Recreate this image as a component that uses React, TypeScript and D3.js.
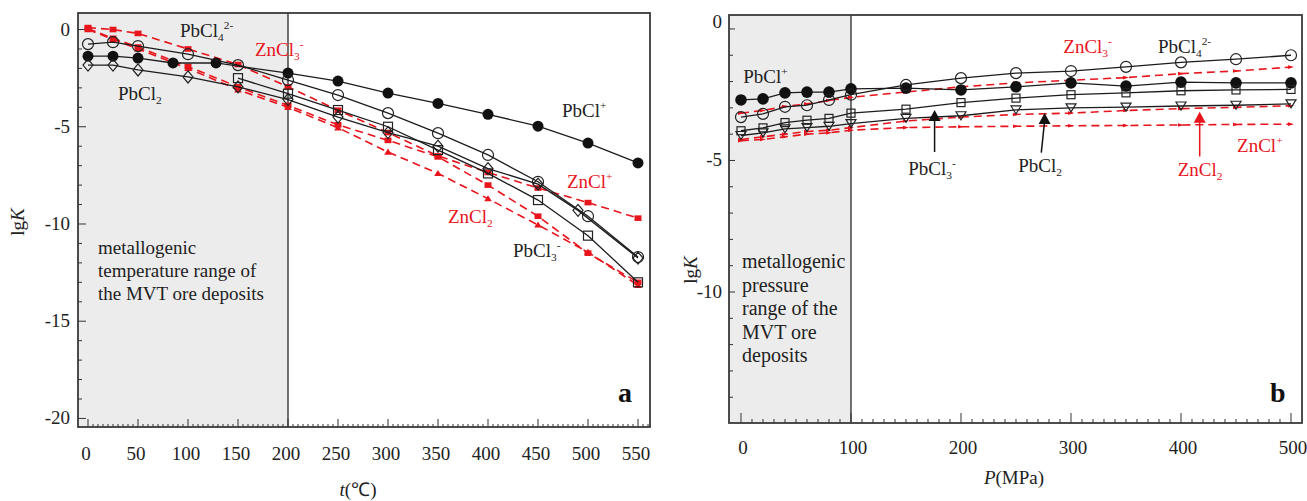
import React from 'react';
import * as d3 from 'd3';

// ---------- Panel a: lgK vs temperature ----------
const tempsA = [0, 25, 50, 100, 150, 200, 250, 300, 350, 400, 450, 500, 550];
const tempsPbClPlusA = [0, 25, 50, 85, 128, 200, 250, 300, 350, 400, 450, 500, 550];
const tempsPbCl2A = [0, 25, 50, 100, 150, 200, 250, 300, 350, 400, 450, 490, 550];
const tempsPbCl3A = [150, 200, 250, 300, 350, 400, 450, 500, 550];

const pbClPlusA = [-1.37, -1.37, -1.47, -1.72, -1.72, -2.24, -2.65, -3.27, -3.8, -4.36, -4.97, -5.84, -6.86];
const pbCl4A = [-0.75, -0.65, -0.85, -1.27, -1.83, -2.6, -3.37, -4.3, -5.33, -6.45, -7.83, -9.6, -11.7];
const pbCl2A = [-1.83, -1.83, -2.08, -2.44, -2.95, -3.6, -4.5, -5.3, -6.0, -7.15, -7.95, -9.3, -11.75];
const pbCl3A = [-2.5, -3.3, -4.14, -5.0, -6.2, -7.4, -8.77, -10.6, -13.0];
const znClPlusA = [0.1, 0.0, -0.2, -1.0, -1.8, -2.95, -4.15, -5.3, -6.5, -7.35, -8.15, -8.9, -9.7];
const znCl3A = [0.05, -0.45, -0.9, -1.9, -2.95, -3.9, -4.9, -5.7, -6.55, -8.0, -9.6, -11.5, -13.0];
const znCl2A = [0.0, -0.5, -1.0, -2.0, -3.1, -4.0, -5.05, -6.3, -7.4, -8.7, -10.05, -11.45, -13.15];

const xTicksA = [0, 50, 100, 150, 200, 250, 300, 350, 400, 450, 500, 550];
const yTicksA = [0, -5, -10, -15, -20];

// ---------- Panel b: lgK vs pressure ----------
const pressuresB = [0, 20, 40, 60, 80, 100, 150, 200, 250, 300, 350, 400, 450, 500];
const pbClPlusB = [-2.7, -2.66, -2.43, -2.4, -2.4, -2.28, -2.25, -2.32, -2.2, -2.05, -2.17, -2.02, -2.05, -2.05];
const pbCl4B = [-3.35, -3.23, -2.96, -2.9, -2.7, -2.5, -2.13, -1.87, -1.68, -1.6, -1.44, -1.27, -1.15, -1.0];
const pbCl3B = [-3.87, -3.76, -3.56, -3.47, -3.4, -3.2, -3.05, -2.8, -2.63, -2.5, -2.43, -2.35, -2.32, -2.3];
const pbCl2B = [-4.05, -3.95, -3.8, -3.75, -3.7, -3.6, -3.4, -3.3, -3.08, -3.0, -2.97, -2.93, -2.9, -2.85];
const znCl3B = [-3.2, -3.1, -2.95, -2.85, -2.72, -2.6, -2.4, -2.2, -2.05, -1.95, -1.85, -1.7, -1.6, -1.45];
const znCl2B = [-4.2, -4.1, -4.0, -3.9, -3.85, -3.75, -3.5, -3.35, -3.25, -3.2, -3.1, -3.03, -2.98, -2.92];
const znClPlusB = [-4.25, -4.2, -4.1, -4.0, -3.95, -3.85, -3.75, -3.72, -3.7, -3.68, -3.67, -3.65, -3.63, -3.62];

const xTicksB = [0, 100, 200, 300, 400, 500];
const yTicksB = [0, -5, -10];

// species labels (position in data units)
const labelsA = [
  { base: 'PbCl', sub: '4', sup: '2-', x: 92, y: -0.39, color: 'black' },
  { base: 'ZnCl', sub: '3', sup: '-', x: 167, y: -1.36, color: 'red' },
  { base: 'PbCl', sub: '2', sup: '', x: 30, y: -3.62, color: 'black' },
  { base: 'PbCl', sub: '', sup: '+', x: 474, y: -4.5, color: 'black' },
  { base: 'ZnCl', sub: '', sup: '+', x: 479, y: -8.15, color: 'red' },
  { base: 'ZnCl', sub: '2', sup: '', x: 360, y: -9.95, color: 'red' },
  { base: 'PbCl', sub: '3', sup: '-', x: 425, y: -11.7, color: 'black' },
];
const labelsB = [
  { base: 'PbCl', sub: '', sup: '+', x: 2, y: -2.07, color: 'black' },
  { base: 'ZnCl', sub: '3', sup: '-', x: 293, y: -0.92, color: 'red' },
  { base: 'PbCl', sub: '4', sup: '2-', x: 379, y: -0.92, color: 'black' },
  { base: 'PbCl', sub: '3', sup: '-', x: 152, y: -5.55, color: 'black' },
  { base: 'PbCl', sub: '2', sup: '', x: 252, y: -5.45, color: 'black' },
  { base: 'ZnCl', sub: '2', sup: '', x: 397, y: -5.6, color: 'red' },
  { base: 'ZnCl', sub: '', sup: '+', x: 451, y: -4.68, color: 'red' },
];
// arrows in panel b
const arrowsB = [
  { x0: 176, x1: 176, y0: -4.68, y1: -3.08, color: '#111' },
  { x0: 273, x1: 276, y0: -4.7, y1: -3.2, color: '#111' },
  { x0: 417, x1: 417, y0: -4.85, y1: -3.15, color: '#e8141c' },
];
const noteA = ['metallogenic', 'temperature range of', 'the MVT ore deposits'];
const noteB = ['metallogenic', 'pressure', 'range of the', 'MVT ore', 'deposits'];

const FONT = "'Liberation Serif', 'Times New Roman', serif";
const RED = '#e8141c';
const BLACK = '#1c1c1c';

const xA = d3.scaleLinear().domain([-10, 562]).range([78, 650]);
const yA = d3.scaleLinear().domain([-20.44, 0.85]).range([427, 13]);
const xB = d3.scaleLinear().domain([-10.9, 510]).range([729, 1302]);
const yB = d3.scaleLinear().domain([-14.98, 0.53]).range([423, 15]);

type Pt = [number, number];
const zip = (xs: number[], ys: number[]): Pt[] => xs.map((x, i) => [x, ys[i]]);

function Marker({ kind, cx, cy, s }: { kind: string; cx: number; cy: number; s: number }) {
  switch (kind) {
    case 'dot':
      return <circle cx={cx} cy={cy} r={s} fill="#111" />;
    case 'circle':
      return <circle cx={cx} cy={cy} r={s} fill="none" stroke="#222" strokeWidth={1.2} />;
    case 'square':
      return <rect x={cx - s} y={cy - s} width={2 * s} height={2 * s} fill="none" stroke="#222" strokeWidth={1.2} />;
    case 'diamond':
      return <path d={`M${cx},${cy - s * 1.2}L${cx + s},${cy}L${cx},${cy + s * 1.2}L${cx - s},${cy}Z`} fill="none" stroke="#222" strokeWidth={1.2} />;
    case 'tridown':
      return <path d={`M${cx - s},${cy - s * 0.8}L${cx + s},${cy - s * 0.8}L${cx},${cy + s * 0.8}Z`} fill="none" stroke="#222" strokeWidth={1.2} />;
    case 'rsquare':
      return <rect x={cx - s} y={cy - s * 0.8} width={2 * s} height={1.6 * s} fill={RED} />;
    case 'rtri':
      return <path d={`M${cx - s},${cy + s * 0.7}L${cx + s},${cy + s * 0.7}L${cx},${cy - s * 0.9}Z`} fill={RED} />;
    case 'rarrow':
      return <path d={`M${cx - s},${cy - s * 0.6}L${cx + s},${cy}L${cx - s},${cy + s * 0.6}Z`} fill={RED} />;
    default:
      return null;
  }
}

function Series({ pts, x, y, kind, s, red }: { pts: Pt[]; x: any; y: any; kind: string; s: number; red?: boolean }) {
  const line = d3.line<Pt>().x((d) => x(d[0])).y((d) => y(d[1]));
  return (
    <g>
      <path
        d={line(pts) || ''}
        fill="none"
        stroke={red ? RED : BLACK}
        strokeWidth={red ? 1.6 : 1.3}
        strokeDasharray={red ? '8,5' : undefined}
      />
      {pts.map((p, i) => (
        <Marker key={i} kind={kind} cx={x(p[0])} cy={y(p[1])} s={s} />
      ))}
    </g>
  );
}

function Chem({ l, x, y, size }: { l: any; x: any; y: any; size: number }) {
  const sm = size * 0.6;
  return (
    <text x={x(l.x)} y={y(l.y)} fill={l.color === 'red' ? RED : '#222'} fontSize={size} fontFamily={FONT}>
      {l.base}
      {l.sub ? (
        <tspan dy={4} fontSize={sm}>
          {l.sub}
        </tspan>
      ) : null}
      {l.sup ? (
        <tspan dy={l.sub ? -12 : -8} fontSize={sm}>
          {l.sup}
        </tspan>
      ) : null}
    </text>
  );
}

function PanelA() {
  const x0 = xA.range()[0], x1 = xA.range()[1];
  const y0 = yA.range()[1], y1 = yA.range()[0];
  const minorX = d3.range(0, 561, 5);
  const minorY = d3.range(-20, 1, 1);
  return (
    <g>
      <rect x={x0} y={y0} width={xA(200) - x0} height={y1 - y0} fill="#ececec" />
      <line x1={xA(200)} x2={xA(200)} y1={y0} y2={y1} stroke="#444" strokeWidth={1.5} />
      {minorX.map((t) => (
        <line key={'mx' + t} x1={xA(t)} x2={xA(t)} y1={y1} y2={y1 - (t % 50 === 0 ? 8 : 3)} stroke="#333" strokeWidth={1} />
      ))}
      {minorY.map((t) => (
        <line key={'my' + t} x1={x0} x2={x0 + (t % 5 === 0 ? 8 : 4)} y1={yA(t)} y2={yA(t)} stroke="#333" strokeWidth={1} />
      ))}
      <Series pts={zip(tempsA, znClPlusA)} x={xA} y={yA} kind="rsquare" s={3.5} red />
      <Series pts={zip(tempsA, znCl3A)} x={xA} y={yA} kind="rsquare" s={3.5} red />
      <Series pts={zip(tempsA, znCl2A)} x={xA} y={yA} kind="rtri" s={3.8} red />
      <Series pts={zip(tempsPbClPlusA, pbClPlusA)} x={xA} y={yA} kind="dot" s={5.5} />
      <Series pts={zip(tempsA, pbCl4A)} x={xA} y={yA} kind="circle" s={5.5} />
      <Series pts={zip(tempsPbCl2A, pbCl2A)} x={xA} y={yA} kind="diamond" s={5} />
      <Series pts={zip(tempsPbCl3A, pbCl3A)} x={xA} y={yA} kind="square" s={4.5} />
      <rect x={x0} y={y0} width={x1 - x0} height={y1 - y0} fill="none" stroke="#3a3a3a" strokeWidth={1.8} />
      {xTicksA.map((t) => (
        <text key={'xl' + t} x={xA(t) - 2} y={460} textAnchor="middle" fontSize={19} fontFamily={FONT} fill="#222">
          {t}
        </text>
      ))}
      {yTicksA.map((t) => (
        <text key={'yl' + t} x={70} y={yA(t) + 6} textAnchor="end" fontSize={19} fontFamily={FONT} fill="#222">
          {t}
        </text>
      ))}
      <text transform={`translate(24,${222}) rotate(-90)`} textAnchor="middle" fontSize={19} fontFamily={FONT} fill="#222">
        lg<tspan fontStyle="italic">K</tspan>
      </text>
      <text x={358} y={496} textAnchor="middle" fontSize={19} fontFamily={FONT} fill="#222">
        <tspan fontStyle="italic">t</tspan>(℃)
      </text>
      {labelsA.map((l, i) => (
        <Chem key={i} l={l} x={xA} y={yA} size={19} />
      ))}
      {noteA.map((s, i) => (
        <text key={i} x={98} y={254 + i * 23} fontSize={19} fontFamily={FONT} fill="#222">
          {s}
        </text>
      ))}
      <text x={618} y={402} fontSize={28} fontWeight="bold" fontFamily={FONT} fill="#111">
        a
      </text>
    </g>
  );
}

function PanelB() {
  const x0 = xB.range()[0], x1 = xB.range()[1];
  const y0 = yB.range()[1], y1 = yB.range()[0];
  const minorX = d3.range(0, 501, 10);
  const minorY = d3.range(-14, 1, 1);
  return (
    <g>
      <rect x={x0} y={y0} width={xB(100) - x0} height={y1 - y0} fill="#ececec" />
      <line x1={xB(100)} x2={xB(100)} y1={y0} y2={y1} stroke="#444" strokeWidth={1.5} />
      {minorX.map((t) => (
        <line key={'mx' + t} x1={xB(t)} x2={xB(t)} y1={y1} y2={y1 - (t % 100 === 0 ? 10 : 4)} stroke="#333" strokeWidth={1} />
      ))}
      {minorY.map((t) => (
        <line key={'my' + t} x1={x0} x2={x0 + (t % 5 === 0 ? 6 : 4)} y1={yB(t)} y2={yB(t)} stroke="#333" strokeWidth={1} />
      ))}
      <Series pts={zip(pressuresB, znCl3B)} x={xB} y={yB} kind="rarrow" s={3} red />
      <Series pts={zip(pressuresB, znCl2B)} x={xB} y={yB} kind="rarrow" s={3} red />
      <Series pts={zip(pressuresB, znClPlusB)} x={xB} y={yB} kind="rarrow" s={3} red />
      <Series pts={zip(pressuresB, pbClPlusB)} x={xB} y={yB} kind="dot" s={5.8} />
      <Series pts={zip(pressuresB, pbCl4B)} x={xB} y={yB} kind="circle" s={5.5} />
      <Series pts={zip(pressuresB, pbCl3B)} x={xB} y={yB} kind="square" s={4} />
      <Series pts={zip(pressuresB, pbCl2B)} x={xB} y={yB} kind="tridown" s={5} />
      {arrowsB.map((a, i) => {
        const ax0 = xB(a.x0), ax1 = xB(a.x1), ay0 = yB(a.y0), ay1 = yB(a.y1);
        return (
          <g key={i}>
            <line x1={ax0} y1={ay0} x2={ax1} y2={ay1 + 8} stroke={a.color} strokeWidth={1.5} />
            <path d={`M${ax1},${ay1}L${ax1 + 6},${ay1 + 11}L${ax1 - 6},${ay1 + 11}Z`} fill={a.color} />
          </g>
        );
      })}
      <rect x={x0} y={y0} width={x1 - x0} height={y1 - y0} fill="none" stroke="#3a3a3a" strokeWidth={1.8} />
      {xTicksB.map((t) => (
        <text key={'xl' + t} x={xB(t) + 2} y={454} textAnchor="middle" fontSize={19} fontFamily={FONT} fill="#222">
          {t}
        </text>
      ))}
      {yTicksB.map((t) => (
        <text key={'yl' + t} x={722} y={yB(t) + 6 - (t === 0 ? 7 : 0)} textAnchor="end" fontSize={19} fontFamily={FONT} fill="#222">
          {t}
        </text>
      ))}
      <text transform={`translate(697,${270}) rotate(-90)`} textAnchor="middle" fontSize={19} fontFamily={FONT} fill="#222">
        lg<tspan fontStyle="italic">K</tspan>
      </text>
      <text x={1014} y={484} textAnchor="middle" fontSize={19} fontFamily={FONT} fill="#222">
        <tspan fontStyle="italic">P</tspan>(MPa)
      </text>
      {labelsB.map((l, i) => (
        <Chem key={i} l={l} x={xB} y={yB} size={19} />
      ))}
      {noteB.map((s, i) => (
        <text key={i} x={742} y={268 + i * 23.5} fontSize={20} fontFamily={FONT} fill="#222">
          {s}
        </text>
      ))}
      <text x={1270} y={402} fontSize={28} fontWeight="bold" fontFamily={FONT} fill="#111">
        b
      </text>
    </g>
  );
}

export default function App() {
  return (
    <svg
      width={1307}
      height={501}
      viewBox="0 0 1307 501"
      style={{ position: 'absolute', left: 0, top: 0, background: '#fff' }}
    >
      <rect x={0} y={0} width={1307} height={501} fill="#fff" />
      <PanelA />
      <PanelB />
    </svg>
  );
}
